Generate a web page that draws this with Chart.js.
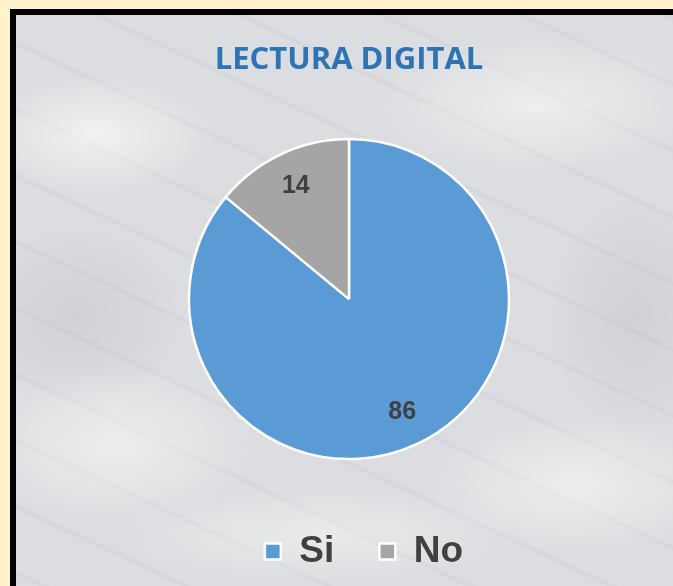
<!DOCTYPE html>
<html>
<head>
<meta charset="utf-8">
<script src="https://cdn.jsdelivr.net/npm/chart.js@4"></script>
<style>
    html, body { margin: 0; padding: 0; }
    body { width: 673px; height: 586px; background: #fff2cc; overflow: hidden; position: relative; }
    #frame {
        position: absolute; left: 10px; top: 9px; width: 700px; height: 620px;
        border: 6px solid #000;
        background:
            radial-gradient(ellipse 120px 60px at 80px 120px, rgba(255,255,255,0.6), rgba(255,255,255,0)),
            radial-gradient(ellipse 160px 70px at 520px 90px, rgba(255,255,255,0.5), rgba(255,255,255,0)),
            radial-gradient(ellipse 140px 80px at 100px 430px, rgba(255,255,255,0.5), rgba(255,255,255,0)),
            radial-gradient(ellipse 150px 70px at 560px 470px, rgba(255,255,255,0.5), rgba(255,255,255,0)),
            radial-gradient(ellipse 200px 50px at 300px 520px, rgba(255,255,255,0.4), rgba(255,255,255,0)),
            radial-gradient(ellipse 90px 120px at 620px 300px, rgba(150,155,165,0.18), rgba(150,155,165,0)),
            radial-gradient(ellipse 110px 90px at 60px 300px, rgba(150,155,165,0.18), rgba(150,155,165,0)),
            repeating-linear-gradient(25deg, rgba(120,125,135,0) 0px, rgba(120,125,135,0) 53px, rgba(120,125,135,0.07) 56px, rgba(120,125,135,0) 60px),
            #dcdde0;
    }
    #wrap { position: absolute; left: 0; top: 0; width: 673px; height: 586px; }
</style>
</head>
<body>
<div id="frame"></div>
<div id="wrap"><canvas id="pieChart" width="673" height="586"></canvas></div>
<script>
const categories = ['Si', 'No'];
const valeurs = [86, 14];
const couleurs = ['#5b9bd5', '#a5a5a5'];

// etiquettes de donnees dans les parts
const etiquettes = {
    id: 'etiquettes',
    afterLayout(chart) {
        // legende un peu decalee a droite comme dans l'original
        chart.legend.left += 15;
        chart.legend.right += 15;
    },
    afterDatasetsDraw(chart) {
        const ctx = chart.ctx;
        const meta = chart.getDatasetMeta(0);
        ctx.save();
        ctx.font = 'bold 25px "Liberation Sans", Arial, sans-serif';
        ctx.fillStyle = '#404040';
        ctx.textAlign = 'center';
        ctx.textBaseline = 'middle';
        meta.data.forEach((arc, i) => {
            const p = arc.getProps(['x', 'y', 'startAngle', 'endAngle', 'outerRadius'], true);
            const mid = (p.startAngle + p.endAngle) / 2;
            const r = p.outerRadius * 0.78;
            ctx.fillText(valeurs[i], p.x + Math.cos(mid) * r, p.y + Math.sin(mid) * r);
        });
        ctx.restore();
    }
};

const ctx = document.getElementById('pieChart').getContext('2d');
new Chart(ctx, {
    type: 'pie',
    data: {
        labels: categories,
        datasets: [{
            data: valeurs,
            backgroundColor: couleurs,
            borderColor: '#ffffff',
            borderWidth: 2.5
        }]
    },
    options: {
        responsive: false,
        animation: false,
        radius: 160,
        layout: { padding: { top: 30, left: 25, right: 0, bottom: 8 } },
        plugins: {
            title: {
                display: true,
                text: 'LECTURA DIGITAL',
                color: '#2e74b5',
                font: { family: '"Open Sans", sans-serif', size: 31, weight: 'bold' },
                padding: { top: 12, bottom: 31 }
            },
            legend: {
                position: 'bottom',
                maxHeight: 90,
                labels: {
                    color: '#404040',
                    font: { family: '"Liberation Sans", Arial, sans-serif', size: 37, weight: 'bold' },
                    boxWidth: 16,
                    boxHeight: 16,
                    padding: 45
                }
            },
            tooltip: { enabled: false }
        }
    },
    plugins: [etiquettes]
});
</script>
</body>
</html>
